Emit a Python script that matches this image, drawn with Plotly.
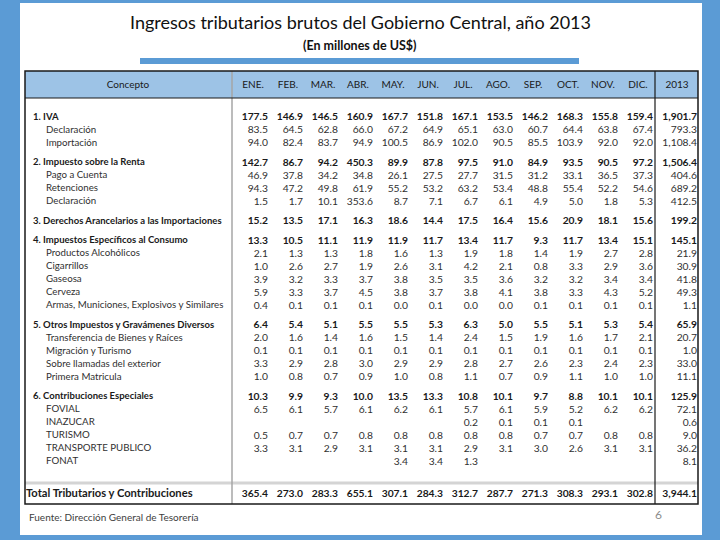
import plotly.graph_objects as go

# Ingresos tributarios brutos 2013 (millones de US$)
meses = ["ENE.", "FEB.", "MAR.", "ABR.", "MAY.", "JUN.", "JUL.", "AGO.", "SEP.", "OCT.", "NOV.", "DIC."]

conceptos = [
    "1. IVA", "Declaración", "Importación",
    "2. Impuesto sobre la Renta", "Pago a Cuenta", "Retenciones", "Declaración",
    "3. Derechos Arancelarios a las Importaciones",
    "4. Impuestos Específicos al Consumo", "Productos Alcohólicos", "Cigarrillos", "Gaseosa",
    "Cerveza", "Armas, Municiones, Explosivos y Similares",
    "5. Otros Impuestos y Gravámenes Diversos", "Transferencia de Bienes y Raíces",
    "Migración y Turismo", "Sobre llamadas del exterior", "Primera Matricula",
    "6. Contribuciones Especiales", "FOVIAL", "INAZUCAR", "TURISMO", "TRANSPORTE PUBLICO", "FONAT",
]

N = None
valores = [
    [177.5, 146.9, 146.5, 160.9, 167.7, 151.8, 167.1, 153.5, 146.2, 168.3, 155.8, 159.4],
    [83.5, 64.5, 62.8, 66.0, 67.2, 64.9, 65.1, 63.0, 60.7, 64.4, 63.8, 67.4],
    [94.0, 82.4, 83.7, 94.9, 100.5, 86.9, 102.0, 90.5, 85.5, 103.9, 92.0, 92.0],
    [142.7, 86.7, 94.2, 450.3, 89.9, 87.8, 97.5, 91.0, 84.9, 93.5, 90.5, 97.2],
    [46.9, 37.8, 34.2, 34.8, 26.1, 27.5, 27.7, 31.5, 31.2, 33.1, 36.5, 37.3],
    [94.3, 47.2, 49.8, 61.9, 55.2, 53.2, 63.2, 53.4, 48.8, 55.4, 52.2, 54.6],
    [1.5, 1.7, 10.1, 353.6, 8.7, 7.1, 6.7, 6.1, 4.9, 5.0, 1.8, 5.3],
    [15.2, 13.5, 17.1, 16.3, 18.6, 14.4, 17.5, 16.4, 15.6, 20.9, 18.1, 15.6],
    [13.3, 10.5, 11.1, 11.9, 11.9, 11.7, 13.4, 11.7, 9.3, 11.7, 13.4, 15.1],
    [2.1, 1.3, 1.3, 1.8, 1.6, 1.3, 1.9, 1.8, 1.4, 1.9, 2.7, 2.8],
    [1.0, 2.6, 2.7, 1.9, 2.6, 3.1, 4.2, 2.1, 0.8, 3.3, 2.9, 3.6],
    [3.9, 3.2, 3.3, 3.7, 3.8, 3.5, 3.5, 3.6, 3.2, 3.2, 3.4, 3.4],
    [5.9, 3.3, 3.7, 4.5, 3.8, 3.7, 3.8, 4.1, 3.8, 3.3, 4.3, 5.2],
    [0.4, 0.1, 0.1, 0.1, 0.0, 0.1, 0.0, 0.0, 0.1, 0.1, 0.1, 0.1],
    [6.4, 5.4, 5.1, 5.5, 5.5, 5.3, 6.3, 5.0, 5.5, 5.1, 5.3, 5.4],
    [2.0, 1.6, 1.4, 1.6, 1.5, 1.4, 2.4, 1.5, 1.9, 1.6, 1.7, 2.1],
    [0.1, 0.1, 0.1, 0.1, 0.1, 0.1, 0.1, 0.1, 0.1, 0.1, 0.1, 0.1],
    [3.3, 2.9, 2.8, 3.0, 2.9, 2.9, 2.8, 2.7, 2.6, 2.3, 2.4, 2.3],
    [1.0, 0.8, 0.7, 0.9, 1.0, 0.8, 1.1, 0.7, 0.9, 1.1, 1.0, 1.0],
    [10.3, 9.9, 9.3, 10.0, 13.5, 13.3, 10.8, 10.1, 9.7, 8.8, 10.1, 10.1],
    [6.5, 6.1, 5.7, 6.1, 6.2, 6.1, 5.7, 6.1, 5.9, 5.2, 6.2, 6.2],
    [N, N, N, N, N, N, 0.2, 0.1, 0.1, 0.1, N, N],
    [0.5, 0.7, 0.7, 0.8, 0.8, 0.8, 0.8, 0.8, 0.7, 0.7, 0.8, 0.8],
    [3.3, 3.1, 2.9, 3.1, 3.1, 3.1, 2.9, 3.1, 3.0, 2.6, 3.1, 3.1],
    [N, N, N, N, 3.4, 3.4, 1.3, N, N, N, N, N],
]

anual = [1901.7, 793.3, 1108.4, 1506.4, 404.6, 689.2, 412.5, 199.2, 145.1, 21.9, 30.9, 41.8,
         49.3, 1.1, 65.9, 20.7, 1.0, 33.0, 11.1, 125.9, 72.1, 0.6, 9.0, 36.2, 8.1]

total_label = "Total Tributarios y Contribuciones"
total_mensual = [365.4, 273.0, 283.3, 655.1, 307.1, 284.3, 312.7, 287.7, 271.3, 308.3, 293.1, 302.8]
total_anual = 3944.1

# geometry (pixels)
Y0, PITCH = 117.5, 13.0
COL0, STEP = 268, 35
X_ANUAL = 697
BLUE = "#5b9bd5"
DARK = "#1a1a1a"
TXT = "#303030"
FONT = "Lato"


def fmt(v):
    return "" if v is None else f"{v:,.1f}"


# vertical placement of rows: half-row gap before each numbered group
row_y = []
u = 0.0
for i, c in enumerate(conceptos):
    if c[0].isdigit() and i > 0:
        u += 0.5
    row_y.append(Y0 + PITCH * u)
    u += 1
total_y = Y0 + PITCH * (u + 1.5)

is_group = [c[0].isdigit() for c in conceptos]
col_x = [COL0 + STEP * k for k in range(len(meses))] + [X_ANUAL]

fig = go.Figure()

# concept labels
for grp in (True, False):
    idx = [i for i in range(len(conceptos)) if is_group[i] == grp]
    fig.add_trace(go.Scatter(
        x=[33 if grp else 46] * len(idx),
        y=[row_y[i] for i in idx],
        text=[conceptos[i] for i in idx],
        mode="text", textposition="middle right",
        textfont=dict(family=FONT, size=9.5 if grp else 9.7, color=DARK if grp else TXT,
                      weight="bold" if grp else "normal"),
        hoverinfo="skip", showlegend=False,
    ))

# numbers
for grp in (True, False):
    xs, ys, ts = [], [], []
    for i in range(len(conceptos)):
        if is_group[i] != grp:
            continue
        row = valores[i] + [anual[i]]
        for k, v in enumerate(row):
            if v is None:
                continue
            xs.append(col_x[k])
            ys.append(row_y[i])
            ts.append(fmt(v))
    fig.add_trace(go.Scatter(
        x=xs, y=ys, text=ts, mode="text", textposition="middle left",
        textfont=dict(family=FONT, size=10.3, color=DARK if grp else TXT,
                      weight="bold" if grp else "normal"),
        hoverinfo="skip", showlegend=False,
    ))

# total row
fig.add_trace(go.Scatter(
    x=[26],
    y=[total_y],
    text=[total_label],
    mode="text", textposition="middle right",
    textfont=dict(family=FONT, size=11.2, color=DARK, weight="bold"),
    hoverinfo="skip", showlegend=False,
))
fig.add_trace(go.Scatter(
    x=col_x,
    y=[total_y] * len(col_x),
    text=[fmt(v) for v in total_mensual + [total_anual]],
    mode="text", textposition="middle left",
    textfont=dict(family=FONT, size=10.3, color=DARK, weight="bold"),
    hoverinfo="skip", showlegend=False,
))

# header row
fig.add_trace(go.Scatter(
    x=[128] + [x - 15 for x in col_x[:-1]] + [677],
    y=[85] * (len(col_x) + 1),
    text=["Concepto"] + meses + ["2013"],
    mode="text", textposition="middle center",
    textfont=dict(family=FONT, size=10, color=DARK),
    hoverinfo="skip", showlegend=False,
))

shapes = [
    dict(type="rect", x0=20, x1=702, y0=3, y1=535, fillcolor="white", line_width=0, layer="below"),
    dict(type="rect", x0=140, x1=579, y0=58, y1=64, fillcolor=BLUE, line_width=0, layer="below"),
    dict(type="rect", x0=25, x1=698, y0=71, y1=98, fillcolor="#9dc3e6", line_width=0, layer="below"),
    dict(type="line", x0=25, x1=698, y0=483, y1=483, line=dict(color="#d4d4d4", width=3)),
    dict(type="line", x0=232, x1=232, y0=71, y1=504, line=dict(color="#a6a6a6", width=1.5)),
    dict(type="line", x0=655, x1=655, y0=71, y1=504, line=dict(color=DARK, width=1.2)),
    dict(type="line", x0=25, x1=698, y0=98, y1=98, line=dict(color=DARK, width=1.2)),
    dict(type="rect", x0=25, x1=698, y0=71, y1=504, line=dict(color=DARK, width=1.5)),
]

annotations = [
    dict(x=360, y=22, text="Ingresos tributarios brutos del Gobierno Central, año 2013",
         showarrow=False, font=dict(family=FONT, size=18, color="#111111")),
    dict(x=360, y=45, text="<b>(En millones de US$)</b>", showarrow=False,
         font=dict(family=FONT, size=12.5, color="#111111")),
    dict(x=27, y=517, text="Fuente: Dirección General de Tesorería", showarrow=False,
         xanchor="left", font=dict(family=FONT, size=10, color="#404040")),
    dict(x=658, y=514, text="6", showarrow=False,
         font=dict(family=FONT, size=12, color="#8c8c8c")),
]

fig.update_layout(
    width=720, height=540,
    margin=dict(l=0, r=0, t=0, b=0),
    paper_bgcolor=BLUE, plot_bgcolor=BLUE,
    xaxis=dict(range=[0, 720], visible=False, fixedrange=True),
    yaxis=dict(range=[540, 0], visible=False, fixedrange=True),
    shapes=shapes, annotations=annotations,
)

# page body margin would shift the 720x540 figure inside the window
fig.write_html("out.html", config={"displayModeBar": False},
               post_script="document.body.style.margin='0';")
